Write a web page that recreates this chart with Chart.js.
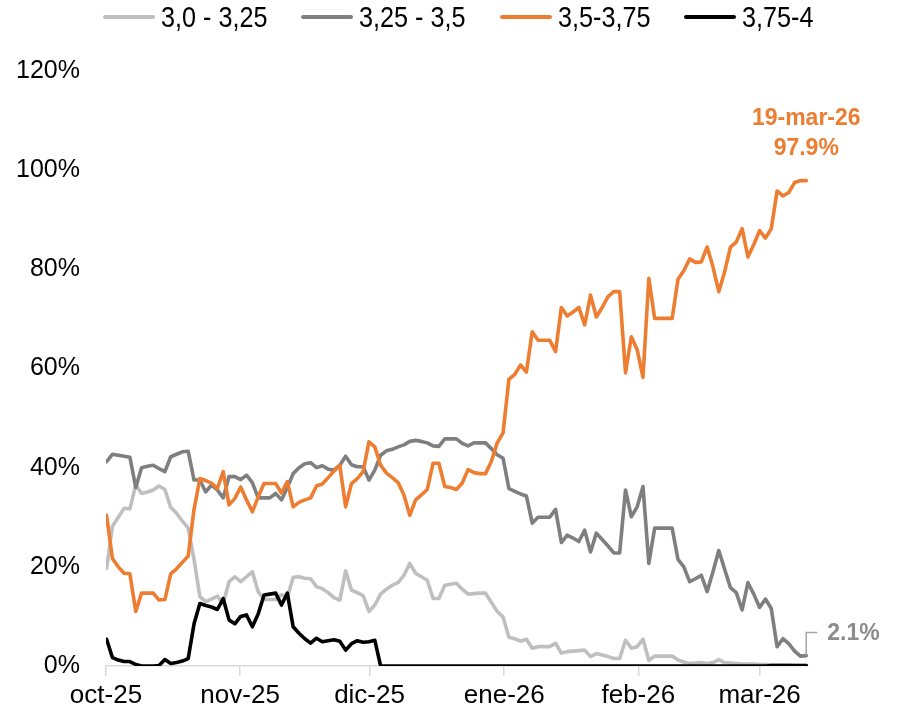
<!DOCTYPE html>
<html lang="es">
<head>
  <meta charset="UTF-8">
  <title>Probabilidades por rango</title>
  <script src="https://cdn.jsdelivr.net/npm/chart.js"></script>
  <style>
    body { margin: 0; background: #fff; }
    #wrap { position: relative; width: 899px; height: 713px; }
    #legend { position: absolute; top: 0; left: 103px; height: 34px; display: flex; align-items: center;
      white-space: nowrap; font-family: 'Liberation Sans', Arial, sans-serif; font-size: 30px; color: #000; }
    #legend .item { display: flex; align-items: center; margin-right: 34px; }
    #legend .swatch { width: 52px; height: 4px; border-radius: 2px; margin-right: 6px; }
    #legend .txt { display: inline-block; transform: scaleX(0.84); transform-origin: 0 50%; }
  </style>
</head>
<body>
<div id="wrap">
  <canvas id="chart" width="899" height="713"></canvas>
  <div id="legend"></div>
</div>
<script>
  // series names / colours (legend order)
  const seriesNames = ["3,0 - 3,25", "3,25 - 3,5", "3,5-3,75", "3,75-4"];
  const seriesColors = ["#BFBFBF", "#7F7F7F", "#ED7D31", "#000000"];

  // month ticks (position on the observation index) and their labels
  const monthLabels = ["oct-25", "nov-25", "dic-25", "ene-26", "feb-26", "mar-26"];
  const monthPos = [-0.1, 22.9, 45.1, 68.2, 91.2, 112.0];
  const lastDate = "19-mar-26";

  // probabilities in %, one value per observation
  const r300 = [19.7, 28.2, 30.0, 31.8, 31.7, 36.5, 34.8, 35.1, 35.5, 36.3,
    35.6, 32.0, 30.8, 29.2, 27.8, 21.5, 14.0, 13.0, 13.5, 14.1,
    12.6, 17.0, 18.0, 17.0, 18.0, 19.0, 15.0, 13.4, 13.4, 13.4,
    14.4, 13.8, 17.9, 18.0, 17.7, 17.6, 16.0, 15.6, 14.8, 13.8,
    13.3, 19.2, 15.3, 14.8, 14.2, 11.0, 12.3, 14.5, 15.5, 16.3,
    16.8, 18.3, 20.7, 18.7, 18.0, 17.3, 13.6, 13.6, 16.3, 16.5,
    16.7, 15.5, 14.5, 14.6, 14.7, 14.7, 12.8, 11.0, 9.9, 5.8,
    5.5, 5.0, 5.4, 3.6, 3.9, 3.9, 3.9, 4.6, 2.6, 2.9,
    3.0, 3.1, 3.2, 1.9, 2.5, 2.2, 1.9, 1.5, 1.5, 5.2,
    3.6, 3.9, 5.4, 1.1, 2.0, 2.0, 2.0, 2.0, 1.2, 0.8,
    0.5, 0.6, 0.7, 0.5, 0.7, 1.3, 0.7, 0.6, 0.5, 0.4,
    0.4, 0.4, 0.3, 0.3, 0.2, 0.2, 0.2, 0.2, 0.1, 0.1, 0.1];

  const r325 = [41.2, 42.7, 42.5, 42.3, 42.1, 36.0, 40.0, 40.3, 40.5, 39.8,
    39.2, 42.2, 42.7, 43.2, 43.3, 37.5, 37.5, 35.1, 36.5, 35.5,
    33.9, 38.2, 38.2, 37.6, 38.5, 37.0, 33.9, 33.9, 33.9, 34.8,
    33.5, 36.0, 38.8, 40.0, 40.8, 41.0, 40.0, 40.4, 39.7, 39.5,
    40.5, 42.3, 40.6, 40.2, 40.2, 37.5, 39.5, 42.5, 43.4, 43.7,
    44.2, 44.6, 45.3, 45.5, 45.3, 45.0, 44.4, 44.3, 45.8, 45.8,
    45.8, 44.9, 44.4, 45.0, 45.0, 45.0, 43.8, 42.6, 41.9, 35.8,
    35.2, 34.7, 34.3, 28.8, 30.0, 30.0, 30.0, 31.6, 24.9, 26.4,
    25.8, 25.1, 27.4, 23.0, 26.8, 25.5, 24.2, 22.8, 22.8, 35.5,
    30.1, 32.1, 36.2, 20.7, 27.8, 27.8, 27.8, 27.8, 21.5, 20.0,
    17.0, 17.6, 18.3, 15.0, 19.0, 23.3, 19.5, 15.8, 14.8, 11.3,
    16.8, 14.5, 11.8, 13.5, 11.6, 3.9, 5.5, 4.5, 3.0, 2.0, 2.1];

  const r350 = [30.4, 21.7, 20.0, 18.7, 18.6, 11.0, 14.7, 14.7, 14.7, 13.3,
    13.4, 18.6, 19.6, 20.9, 22.2, 31.6, 37.8, 37.4, 36.9, 35.8,
    39.2, 32.5, 33.8, 36.1, 33.5, 31.1, 34.1, 36.8, 36.8, 36.8,
    34.9, 37.2, 32.1, 33.0, 33.5, 33.9, 36.3, 36.7, 38.0, 39.3,
    40.5, 32.1, 36.8, 37.8, 39.2, 45.2, 44.2, 40.5, 38.9, 38.0,
    37.0, 34.5, 30.4, 33.5, 34.5, 35.6, 40.9, 40.9, 36.2, 36.0,
    35.6, 36.9, 39.6, 39.0, 38.8, 38.8, 41.3, 45.0, 47.0, 57.8,
    58.8, 60.7, 59.3, 67.4, 65.7, 65.7, 65.7, 63.4, 72.3, 70.6,
    71.4, 72.3, 68.8, 74.8, 70.4, 72.3, 74.5, 75.5, 75.5, 59.1,
    66.4, 63.8, 58.2, 78.2, 70.1, 70.1, 70.1, 70.1, 78.0, 79.7,
    82.1, 81.4, 81.5, 84.5, 80.5, 75.5, 79.5, 84.5, 85.5, 88.2,
    82.5, 85.0, 87.8, 86.3, 88.2, 95.8, 94.8, 95.5, 97.5, 97.9, 97.9];

  const r375 = [5.4, 1.7, 1.2, 0.9, 0.9, 0.3, 0.0, 0.0, 0.0, 0.1,
    1.3, 0.5, 0.7, 1.0, 1.5, 8.5, 12.6, 12.2, 11.9, 11.4,
    13.6, 9.3, 8.5, 10.0, 10.3, 7.9, 10.5, 14.3, 14.5, 14.7,
    12.3, 14.7, 7.9, 6.6, 5.5, 4.6, 5.6, 4.9, 5.1, 5.3,
    5.0, 3.2, 4.5, 5.1, 4.8, 4.9, 5.2, 0.0, 0.0, 0.0,
    0.0, 0.0, 0.0, 0.0, 0.0, 0.0, 0.0, 0.0, 0.0, 0.0,
    0.0, 0.0, 0.0, 0.0, 0.0, 0.0, 0.0, 0.0, 0.0, 0.0,
    0.0, 0.0, 0.0, 0.0, 0.0, 0.0, 0.0, 0.0, 0.0, 0.0,
    0.0, 0.0, 0.0, 0.0, 0.0, 0.0, 0.0, 0.0, 0.0, 0.0,
    0.0, 0.0, 0.0, 0.0, 0.0, 0.0, 0.0, 0.0, 0.0, 0.0,
    0.0, 0.0, 0.0, 0.0, 0.0, 0.0, 0.0, 0.0, 0.0, 0.0,
    0.0, 0.0, 0.0, 0.0, 0.1, 0.1, 0.1, 0.1, 0.1, 0.1, 0.1];

  const series = [r300, r325, r350, r375];
  const sans = "'Liberation Sans', Arial, sans-serif";

  // html legend (text squeezed to look like the narrow font of the original)
  const legendEl = document.getElementById("legend");
  legendEl.innerHTML = seriesNames.map((n, i) =>
    `<div class="item"><div class="swatch" style="background:${seriesColors[i]}"></div><span class="txt">${n}</span></div>`
  ).join("");
  legendEl.querySelectorAll(".txt").forEach(s => {
    s.style.marginRight = (-s.offsetWidth * 0.16) + "px";
  });

  // end-of-series callouts
  const endLabels = {
    id: "endLabels",
    afterDatasetsDraw(chart) {
      const { ctx, scales: { x, y } } = chart;
      const last = r350.length - 1;
      const px = x.getPixelForValue(last);
      const oy = y.getPixelForValue(r350[last]);
      const gy = y.getPixelForValue(r325[last]);
      ctx.save();
      ctx.font = "bold 23px " + sans;
      ctx.textBaseline = "middle";
      ctx.textAlign = "center";
      ctx.fillStyle = seriesColors[2];
      ctx.fillText(lastDate, px, oy - 62);
      ctx.fillText(r350[last].toFixed(1) + "%", px, oy - 32);

      ctx.strokeStyle = "#A6A6A6";
      ctx.lineWidth = 1.5;
      ctx.beginPath();
      ctx.moveTo(px, gy);
      ctx.lineTo(px, gy - 23);
      ctx.lineTo(px + 11, gy - 23);
      ctx.stroke();
      ctx.textAlign = "left";
      ctx.fillStyle = "#8C8C8C";
      ctx.fillText(r325[last].toFixed(1) + "%", px + 21, gy - 22);
      ctx.restore();
    }
  };

  new Chart(document.getElementById("chart"), {
    type: "line",
    data: {
      datasets: series.map((s, i) => ({
        label: seriesNames[i],
        data: s.map((v, k) => ({ x: k, y: v })),
        borderColor: seriesColors[i],
        backgroundColor: seriesColors[i],
        borderWidth: 3.6,
        pointRadius: 0,
        tension: 0,
        borderJoinStyle: "round",
        borderCapStyle: "round",
        order: series.length - i
      }))
    },
    options: {
      responsive: false,
      animation: false,
      layout: { padding: { top: 71, right: 91, bottom: 0, left: 0 } },
      plugins: { legend: { display: false }, tooltip: { enabled: false } },
      scales: {
        x: {
          type: "linear",
          min: -0.1,
          max: 120.3,
          afterBuildTicks: s => { s.ticks = monthPos.map(v => ({ value: v })); },
          afterFit: s => { s.height = 47; },
          ticks: {
            autoSkip: false,
            maxRotation: 0,
            callback: (v, i) => monthLabels[i],
            font: { family: sans, size: 26 },
            color: "#000",
            padding: 4
          },
          grid: { drawOnChartArea: false, tickLength: 10, color: "#D9D9D9", lineWidth: 1.5 },
          border: { color: "#D9D9D9", width: 1.5 }
        },
        y: {
          min: 0,
          max: 120,
          afterFit: s => { s.width = 106; },
          ticks: {
            stepSize: 20,
            callback: v => v + "%",
            font: { family: sans, size: 25 },
            color: "#000",
            padding: 26
          },
          grid: { display: false, drawTicks: false },
          border: { display: false }
        }
      }
    },
    plugins: [endLabels]
  });
</script>
</body>
</html>
